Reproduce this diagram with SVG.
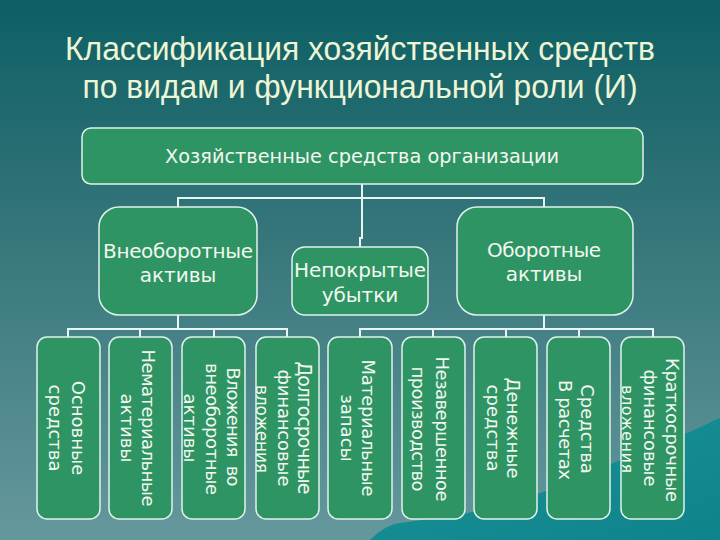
<svg xmlns="http://www.w3.org/2000/svg" width="720" height="540" viewBox="0 0 720 540">
<defs>
<linearGradient id="bg" x1="0" y1="0" x2="0" y2="1">
<stop offset="0" stop-color="#0c5f64"/>
<stop offset="0.45" stop-color="#37777c"/>
<stop offset="1" stop-color="#65989d"/>
</linearGradient>
<linearGradient id="wave" x1="0" y1="0" x2="1" y2="1">
<stop offset="0" stop-color="#1a9298"/>
<stop offset="1" stop-color="#0f838b"/>
</linearGradient>
<style>
.box{fill:#2f9463;stroke:#dff3ea;stroke-width:1.5}
.t{font-family:"DejaVu Sans",Verdana,sans-serif;fill:#f2f7f0;text-anchor:middle}
.m{font-size:20px}
.v{font-size:18px}
.ttl{font-family:"Liberation Sans",Arial,sans-serif;font-size:34px;fill:#eef5d4;text-anchor:middle}
.c{fill:none;stroke:#e6f6f3;stroke-width:2}
</style>
</defs>
<rect width="720" height="540" fill="url(#bg)"/>
<path d="M370,540 C380,530 390,524 400,523 L460,515 C490,508 520,498 540,493 C570,483 595,470 613,463 C640,452 665,440 687,433 C700,428 710,422 720,418 L720,540 Z" fill="url(#wave)"/>

<g id="title">
<text class="ttl" x="360" y="60" textLength="590" lengthAdjust="spacingAndGlyphs">Классификация хозяйственных средств</text>
<text class="ttl" x="360" y="98" textLength="555" lengthAdjust="spacingAndGlyphs">по видам и функциональной роли (И)</text>
</g>

<g id="connectors">
<path class="c" d="M362,184 V238 H360 V247"/>
<path class="c" d="M178,207 V198 H544 V207"/>
<path class="c" d="M178,315 V329 M68,337 V329 H287 V337 M140,329 V337 M214,329 V337"/>
<path class="c" d="M544,315 V329 M360,337 V329 H653 V337 M433,329 V337 M506,329 V337 M579,329 V337"/>
</g>

<g id="root">
<rect class="box" x="82" y="128" width="561" height="56" rx="9"/>
<text class="t" x="362" y="163" style="font-size:19.5px" textLength="394" lengthAdjust="spacingAndGlyphs">Хозяйственные средства организации</text>
</g>

<g id="noncurrent">
<rect class="box" x="99" y="207" width="158" height="108" rx="20"/>
<text class="t m" x="178" y="258" textLength="150">Внеоборотные</text>
<text class="t m" x="178" y="282">активы</text>
</g>

<g id="losses">
<rect class="box" x="292" y="247" width="136" height="68" rx="13"/>
<text class="t m" x="360" y="277" textLength="132">Непокрытые</text>
<text class="t m" x="360" y="302">убытки</text>
</g>

<g id="current">
<rect class="box" x="457" y="207" width="176" height="108" rx="20"/>
<text class="t m" x="544" y="257" textLength="114">Оборотные</text>
<text class="t m" x="544" y="281">активы</text>
</g>

<g id="b1">
<rect class="box" x="37" y="337" width="63" height="182" rx="10"/>
<text class="t v" transform="translate(78,428) rotate(90)" dy="0.35em">Основные</text>
<text class="t v" transform="translate(55,428) rotate(90)" dy="0.35em">средства</text>
</g>
<g id="b2">
<rect class="box" x="109" y="337" width="63" height="182" rx="10"/>
<text class="t v" transform="translate(148,428) rotate(90)" dy="0.35em" textLength="157">Нематериальные</text>
<text class="t v" transform="translate(127,428) rotate(90)" dy="0.35em">активы</text>
</g>
<g id="b3">
<rect class="box" x="182" y="337" width="63" height="182" rx="10"/>
<text class="t v" transform="translate(233,427) rotate(90)" dy="0.35em" textLength="119" xml:space="preserve">Вложения  во</text>
<text class="t v" transform="translate(212,429) rotate(90)" dy="0.35em" textLength="132">внеоборотные</text>
<text class="t v" transform="translate(190,428) rotate(90)" dy="0.35em">активы</text>
</g>
<g id="b4">
<rect class="box" x="256" y="337" width="63" height="182" rx="10"/>
<text class="t" font-size="19" transform="translate(305,428) rotate(90)" dy="0.35em" textLength="133">Долгосрочные</text>
<text class="t" font-size="18" transform="translate(284,428) rotate(90)" dy="0.35em" textLength="117">финансовые</text>
<text class="t" font-size="17" transform="translate(262,429) rotate(90)" dy="0.35em" textLength="88">вложения</text>
</g>
<g id="b5">
<rect class="box" x="328" y="337" width="64" height="182" rx="10"/>
<text class="t v" transform="translate(368,428) rotate(90)" dy="0.35em" textLength="137">Материальные</text>
<text class="t v" transform="translate(347,428) rotate(90)" dy="0.35em">запасы</text>
</g>
<g id="b6">
<rect class="box" x="402" y="337" width="63" height="182" rx="10"/>
<text class="t v" transform="translate(442,429) rotate(90)" dy="0.35em" textLength="145">Незавершенное</text>
<text class="t v" transform="translate(418,429) rotate(90)" dy="0.35em" textLength="125">производство</text>
</g>
<g id="b7">
<rect class="box" x="474" y="337" width="63" height="182" rx="10"/>
<text class="t v" transform="translate(513,428) rotate(90)" dy="0.35em">Денежные</text>
<text class="t v" transform="translate(493,428) rotate(90)" dy="0.35em">средства</text>
</g>
<g id="b8">
<rect class="box" x="547" y="337" width="63" height="182" rx="10"/>
<text class="t v" transform="translate(587,429) rotate(90)" dy="0.35em">Средства</text>
<text class="t v" transform="translate(565,430) rotate(90)" dy="0.35em" textLength="100">В расчетах</text>
</g>
<g id="b9">
<rect class="box" x="621" y="337" width="63" height="182" rx="10"/>
<text class="t v" transform="translate(672,430) rotate(90)" dy="0.35em" textLength="144">Краткосрочные</text>
<text class="t v" transform="translate(650,428) rotate(90)" dy="0.35em" textLength="117">финансовые</text>
<text class="t" font-size="16" transform="translate(628,429) rotate(90)" dy="0.35em" textLength="88">вложения</text>
</g>
</svg>
